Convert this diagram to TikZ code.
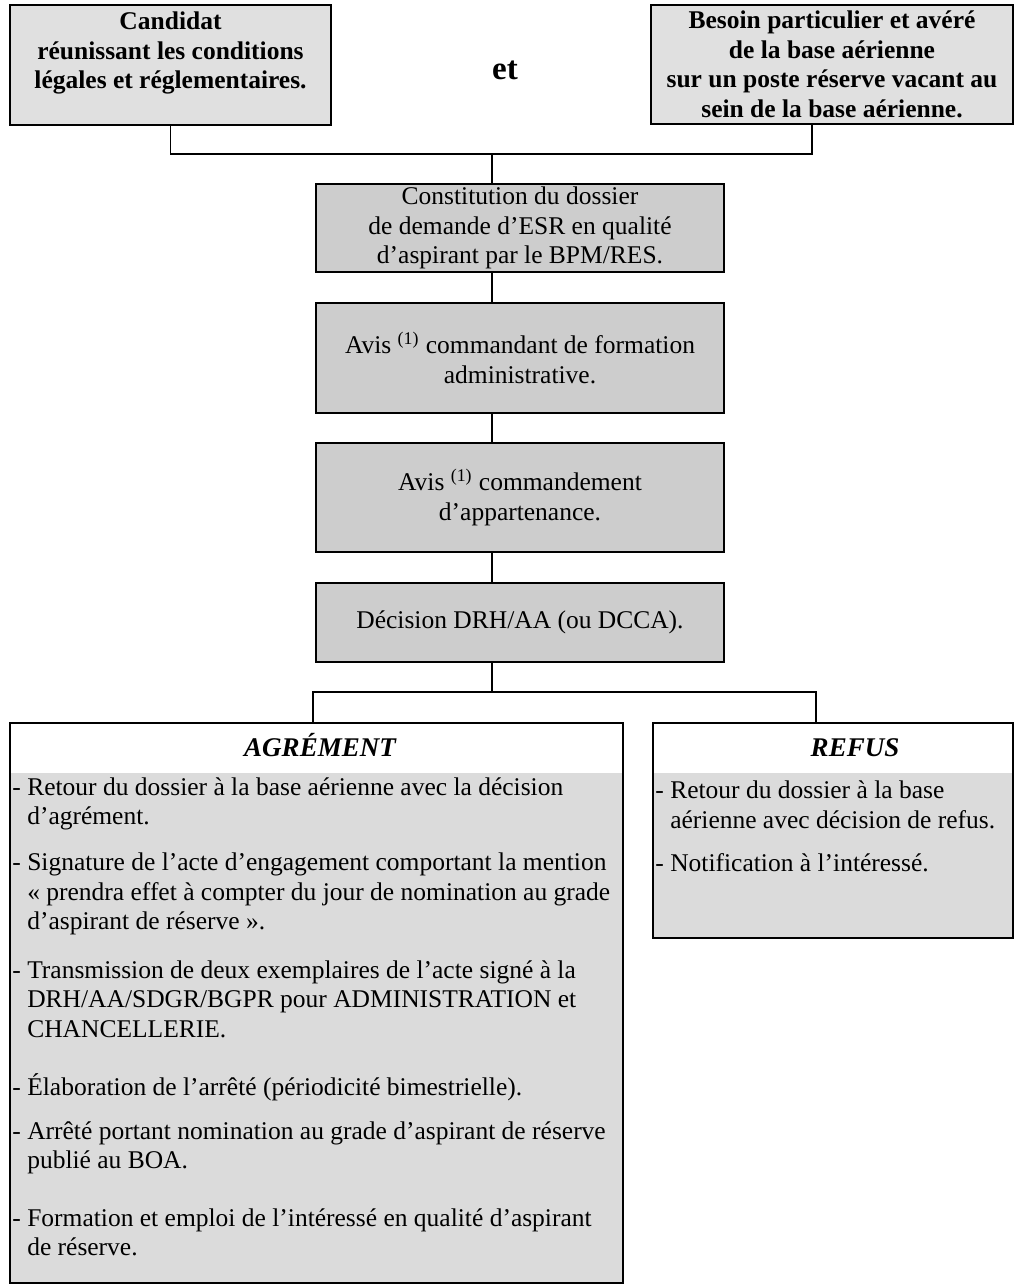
\documentclass[tikz,border=0pt]{standalone}
\usepackage{fontspec}
\setmainfont{Liberation Serif}
\usepackage{tikz}
\usetikzlibrary{shapes, arrows}
\definecolor{clair}{HTML}{E0E0E0}
\definecolor{moyen}{HTML}{CDCDCD}
\definecolor{fond}{HTML}{DBDBDB}
\newcommand{\texte}{\fontsize{12.75}{14.75}\selectfont}
\tikzstyle{condition} = [rectangle, draw=black, line width=1.1pt, fill=clair, inner sep=0pt, align=center, font=\texte\bfseries]
\tikzstyle{etape} = [rectangle, draw=black, line width=1.1pt, fill=moyen, minimum width=204pt, inner sep=0pt, align=center, font=\texte]
\tikzstyle{issue} = [rectangle, draw=black, line width=1.1pt, fill=fond, inner sep=0pt, path picture={\fill[white] (path picture bounding box.north west) rectangle ([yshift=-25pt]path picture bounding box.north east);}]
\tikzstyle{titre} = [anchor=base, inner sep=0pt, font=\fontsize{13.5}{15}\selectfont\bfseries\itshape]
\tikzstyle{point} = [anchor=west, inner sep=0pt, align=left, font=\texte]
\tikzstyle{ligne} = [line width=0.9pt]

\begin{document}
\begin{tikzpicture}[x=0.5pt, y=-0.5pt]
				\useasboundingbox (0,0) rectangle (1015,1288);
				\node (cand) [condition, minimum width=160.5pt, minimum height=60pt] at (170.5,65) {Candidat\\réunissant les conditions\\légales et réglementaires.\\\mbox{}};
				\node (et) [inner sep=0pt, font=\fontsize{16.5}{18}\selectfont\bfseries] at (505,70) {et};
				\node (besoin) [condition, minimum width=181pt, minimum height=59.5pt] at (832,64.5) {Besoin particulier et avéré\\de la base aérienne\\sur un poste réserve vacant au\\sein de la base aérienne.};
				\node (cons) [etape, minimum height=44pt] at (520,228) {Constitution du dossier\\de demande d’ESR en qualité\\d’aspirant par le BPM/RES.};
				\node (avis1) [etape, minimum height=55pt] at (520,358) {Avis \textsuperscript{(1)} commandant de formation\\administrative.};
				\node (avis2) [etape, minimum height=54.5pt] at (520,497.5) {Avis \textsuperscript{(1)} commandement\\d’appartenance.};
				\node (dec) [etape, minimum height=39.5pt] at (520,622.5) {Décision DRH/AA (ou DCCA).};
				\node (agr) [issue, minimum width=306.5pt, minimum height=280pt] at (316.5,1003) {};
				\node (ref) [issue, minimum width=180pt, minimum height=107.5pt] at (833,830.5) {};

				%titres des issues
				\node (agrtitre) [titre] at (320,756) {AGRÉMENT};
				\node (reftitre) [titre] at (855,756) {REFUS};

				%agrément
				\node (a1) [point] at (12,804) {- Retour du dossier à la base aérienne avec la décision\\\phantom{- }d’agrément.};
				\node (a2) [point] at (12,894) {- Signature de l’acte d’engagement comportant la mention\\\phantom{- }« prendra effet à compter du jour de nomination au grade\\\phantom{- }d’aspirant de réserve ».};
				\node (a3) [point] at (12,999) {- Transmission de deux exemplaires de l’acte signé à la\\\phantom{- }DRH/AA/SDGR/BGPR pour ADMINISTRATION et\\\phantom{- }CHANCELLERIE.};
				\node (a4) [point] at (12,1087) {- Élaboration de l’arrêté (périodicité bimestrielle).};
				\node (a5) [point] at (12,1148) {- Arrêté portant nomination au grade d’aspirant de réserve\\\phantom{- }publié au BOA.};
				\node (a6) [point] at (12,1232.5) {- Formation et emploi de l’intéressé en qualité d’aspirant\\\phantom{- }de réserve.};

				%refus
				\node (r1) [point] at (655,805) {- Retour du dossier à la base\\\phantom{- }aérienne avec décision de refus.};
				\node (r2) [point] at (655,863) {- Notification à l’intéressé.};

				%liaisons
				\coordinate (j1) at (492,154);
				\coordinate (j2) at (492,692);
				\coordinate (ga) at (313,692);
				\coordinate (dr) at (816,692);
				\draw [ligne](cand.south) |- (j1);
				\draw [ligne](j1) -| ([xshift=-10pt]besoin.south);
				\draw [ligne](j1) -- (j1 |- cons.north);
				\draw [ligne](j1 |- cons.south) -- (j1 |- avis1.north);
				\draw [ligne](j1 |- avis1.south) -- (j1 |- avis2.north);
				\draw [ligne](j1 |- avis2.south) -- (j1 |- dec.north);
				\draw [ligne](j1 |- dec.south) -- (j2);
				\draw [ligne](ga |- agr.north) -- (ga) -- (dr) -- (dr |- ref.north);

\end{tikzpicture}
\end{document}
